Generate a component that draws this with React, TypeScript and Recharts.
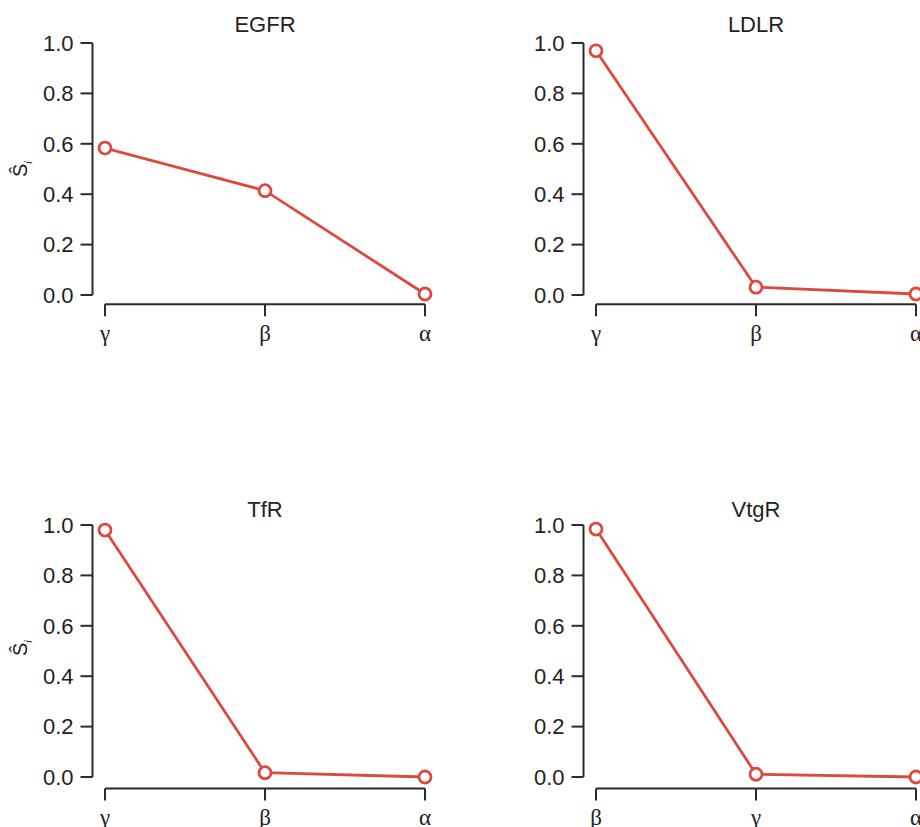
import React from "react";
import { LineChart, Line, XAxis, YAxis, ReferenceLine } from "recharts";

// category order and Ŝi values per receptor
const egfrCats = ["γ", "β", "α"];
const egfrVals = [0.583, 0.414, 0.004];
const ldlrCats = ["γ", "β", "α"];
const ldlrVals = [0.969, 0.031, 0.004];
const tfrCats = ["γ", "β", "α"];
const tfrVals = [0.98, 0.017, 0.0];
const vtgrCats = ["β", "γ", "α"];
const vtgrVals = [0.984, 0.011, 0.0];
const yTicks = [0, 0.2, 0.4, 0.6, 0.8, 1.0];

const RED = "#dc4a3e";
const AXIS = "#2b2b2b";
const SANS = "'Liberation Sans', Arial, sans-serif";
const SERIF = "'Liberation Serif', 'Times New Roman', serif";

// x axis is drawn detached, a few px below the 0.0 line
function makeXTick(gap: number) {
  return function XTick(props: any) {
    const { x, y, payload } = props;
    return (
      <g>
        <line x1={x} x2={x} y1={y + gap} y2={y + gap + 12} stroke={AXIS} strokeWidth={2} />
        <text
          x={x}
          y={y + gap + 20}
          dy="0.71em"
          textAnchor="middle"
          fontSize={23}
          fontFamily={SERIF}
          fill="#222"
        >
          {payload.value}
        </text>
      </g>
    );
  };
}

interface PanelProps {
  title: string;
  cats: string[];
  vals: number[];
  left: number;
  top: number;
  gap: number;
  titleTop: number;
  showYLabel?: boolean;
  yLabelTop?: number;
}

function Panel({ title, cats, vals, left, top, gap, titleTop, showYLabel, yLabelTop }: PanelProps) {
  const data = cats.map((c, i) => ({ cat: c, v: vals[i] }));
  const XTick = makeXTick(gap);
  return (
    <>
      <div style={{ position: "absolute", left, top, width: 460, height: 400 }}>
        <LineChart width={460} height={400} data={data} margin={{ top: 43, right: 35, bottom: 65, left: 32.5 }}>
          <YAxis
            domain={[0, 1]}
            ticks={yTicks}
            width={60}
            tickFormatter={(v: number) => v.toFixed(1)}
            tickSize={12}
            tickMargin={7}
            axisLine={{ stroke: AXIS, strokeWidth: 2 }}
            tickLine={{ stroke: AXIS, strokeWidth: 2 }}
            tick={{ fontSize: 22, fill: "#222", fontFamily: SANS }}
          />
          <XAxis
            dataKey="cat"
            height={40}
            interval={0}
            padding={{ left: 12.5, right: 0 }}
            axisLine={false}
            tickLine={false}
            tickSize={0}
            tickMargin={0}
            tick={<XTick />}
          />
          <ReferenceLine
            segment={[
              { x: cats[0], y: 0 },
              { x: cats[cats.length - 1], y: 0 },
            ]}
            shape={(p: any) => (
              <line x1={p.x1} x2={p.x2} y1={p.y1 + gap} y2={p.y2 + gap} stroke={AXIS} strokeWidth={2} />
            )}
          />
          <Line
            type="linear"
            dataKey="v"
            stroke={RED}
            strokeWidth={2.8}
            dot={{ r: 6, fill: "#fff", stroke: RED, strokeWidth: 2.8 }}
            activeDot={false}
            isAnimationActive={false}
          />
        </LineChart>
      </div>
      <div
        style={{
          position: "absolute",
          left: left + 105,
          top: top + titleTop,
          width: 320,
          textAlign: "center",
          fontFamily: SANS,
          fontSize: 22,
          lineHeight: "22px",
          color: "#222",
        }}
      >
        {title}
      </div>
      {showYLabel && (
        <div
          style={{
            position: "absolute",
            left: 10,
            top: yLabelTop,
            transformOrigin: "0 0",
            transform: "rotate(-90deg)",
            fontFamily: SANS,
            fontSize: 20,
            lineHeight: "20px",
            color: "#222",
            whiteSpace: "nowrap",
          }}
        >
          Ŝ<sub style={{ fontSize: 11, fontStyle: "italic" }}>i</sub>
        </div>
      )}
    </>
  );
}

export default function App() {
  return (
    <div
      style={{
        position: "absolute",
        left: 0,
        top: 0,
        width: 920,
        height: 827,
        overflow: "hidden",
        background: "#fff",
      }}
    >
      <Panel title="EGFR" cats={egfrCats} vals={egfrVals} left={0} top={0} gap={9.3} titleTop={14} showYLabel yLabelTop={177} />
      <Panel title="LDLR" cats={ldlrCats} vals={ldlrVals} left={491} top={0} gap={9.3} titleTop={14} />
      <Panel title="TfR" cats={tfrCats} vals={tfrVals} left={0} top={482} gap={11.6} titleTop={17} showYLabel yLabelTop={656} />
      <Panel title="VtgR" cats={vtgrCats} vals={vtgrVals} left={491} top={482} gap={11.6} titleTop={17} />
    </div>
  );
}
